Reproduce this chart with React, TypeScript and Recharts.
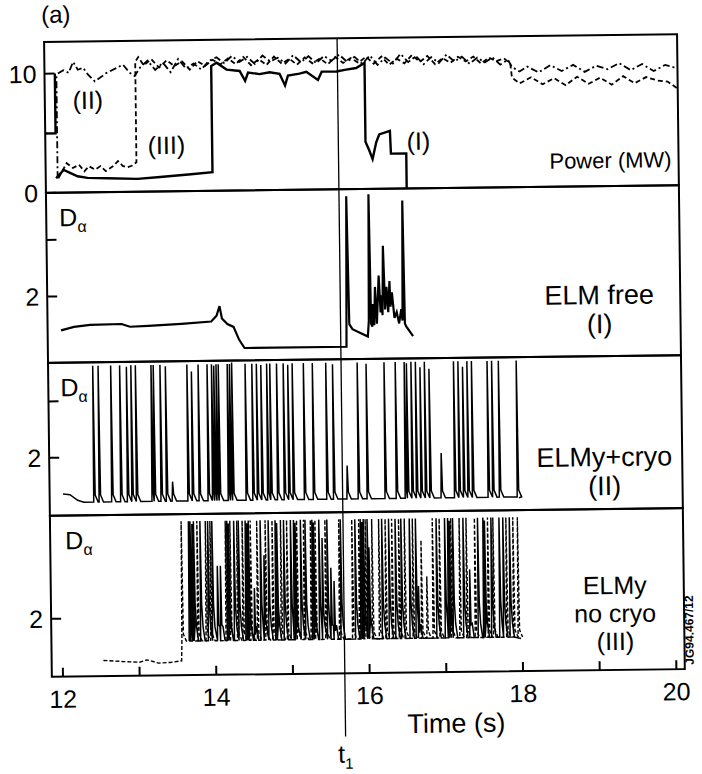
import React from "react";
import { LineChart, Line, XAxis, YAxis, ReferenceLine, ReferenceArea } from "recharts";

// time axis (s)
const X_DOMAIN: [number, number] = [11.855, 20.11];
const X_TICKS = [12, 13, 14, 15, 16, 17, 18, 19, 20];
const X_LABELS = [12, 14, 16, 18, 20];
const T1 = 15.676;

// power (MW)
const powerI: [number, number | null][] = [
  [11.99, 10.0], [11.99, 4.98], [11.855, 4.98], [11.9, null],
  [11.99, 1.22], [12.09, 1.91], [12.18, 1.64], [12.27, 1.36], [12.4, 1.22], [12.66, 1.16],
  [13.05, 1.08], [13.31, 1.2], [13.75, 1.42], [14.03, 1.56],
  [14.03, 10.47], [14.1, 10.75], [14.23, 10.16], [14.4, 10.03], [14.47, 9.19], [14.51, 9.89],
  [14.66, 9.75], [14.79, 9.89], [14.92, 9.75], [14.99, 8.77], [15.03, 9.6], [15.18, 9.75],
  [15.27, 9.89], [15.42, 9.19], [15.47, 9.89], [15.66, 9.89], [15.79, 10.03], [15.92, 10.16],
  [16.03, 10.58], [16.03, 3.97], [16.08, 3.2], [16.12, 2.5], [16.17, 3.9], [16.21, 4.56],
  [16.35, 4.85], [16.36, 2.94], [16.56, 2.94], [16.56, 0],
];
const powerII: [number, number][] = [
  [12.01, 1.22], [12.01, 9.71], [12.03, 10.0], [12.1, 10.27], [12.17, 10.05], [12.23, 10.96],
  [12.29, 10.3], [12.36, 10.45], [12.42, 9.9], [12.51, 9.3], [12.6, 9.7], [12.66, 9.99],
  [12.79, 10.4], [12.88, 10.68], [12.965, 10.0], [13.03, 9.71], [13.1, 10.4], [13.2, 11.0],
  [13.3, 10.2], [13.4, 10.8], [13.5, 10.0], [13.6, 11.1], [13.7, 10.3], [13.8, 10.7],
  [13.9, 10.2], [14.0, 10.9], [14.1, 11.2], [14.2, 10.7], [14.3, 11.3], [14.4, 10.8],
  [14.5, 11.2], [14.6, 10.6], [14.7, 11.3], [14.8, 10.8], [14.9, 11.1], [15.0, 10.6],
  [15.1, 11.3], [15.2, 10.7], [15.3, 11.2], [15.4, 10.6], [15.5, 11.2], [15.6, 10.8],
  [15.7, 11.3], [15.8, 10.7], [15.9, 11.1], [16.0, 10.5], [16.1, 11.2], [16.2, 10.4],
  [16.3, 11.0], [16.4, 10.5], [16.5, 11.3], [16.6, 10.6], [16.7, 11.1], [16.8, 10.4],
  [16.9, 11.0], [17.0, 10.5], [17.1, 11.2], [17.2, 10.6], [17.3, 11.0], [17.4, 10.4],
  [17.5, 10.9], [17.6, 10.5], [17.7, 10.9], [17.8, 10.3], [17.9, 10.7], [17.95, 10.1],
  [18.05, 9.7], [18.15, 10.1], [18.3, 9.6], [18.45, 10.2], [18.6, 9.7], [18.75, 10.2],
  [18.9, 9.6], [19.05, 10.1], [19.2, 9.8], [19.35, 10.3], [19.5, 9.7], [19.65, 10.2],
  [19.8, 9.6], [19.95, 10.1], [20.11, 9.8],
];
const powerIII: [number, number][] = [
  [12.02, 1.22], [12.13, 2.47], [12.21, 2.06], [12.29, 2.33], [12.36, 1.77], [12.42, 2.19],
  [12.5, 1.9], [12.57, 2.19], [12.64, 1.77], [12.74, 2.19], [12.8, 2.6], [12.86, 2.19],
  [12.92, 2.06], [12.98, 2.19], [13.04, 2.47], [13.04, 10.9], [13.08, 11.3], [13.15, 10.6],
  [13.25, 11.1], [13.35, 10.4], [13.45, 11.0], [13.55, 10.5], [13.65, 10.9], [13.75, 10.2],
  [13.85, 10.9], [13.95, 10.5], [14.05, 11.0], [14.15, 10.6], [14.25, 11.1], [14.35, 10.6],
  [14.45, 11.2], [14.55, 10.5], [14.65, 11.0], [14.75, 10.5], [14.85, 11.2], [14.95, 10.6],
  [15.05, 11.0], [15.15, 10.5], [15.25, 11.1], [15.35, 10.6], [15.45, 11.0], [15.55, 10.5],
  [15.65, 11.1], [15.75, 10.6], [15.85, 11.0], [15.95, 10.6], [16.05, 11.1], [16.15, 10.5],
  [16.25, 11.1], [16.35, 10.4], [16.45, 10.9], [16.55, 10.5], [16.65, 11.2], [16.75, 10.6],
  [16.85, 11.1], [16.95, 10.4], [17.05, 10.9], [17.15, 10.5], [17.25, 11.0], [17.35, 10.6],
  [17.45, 11.0], [17.55, 10.4], [17.65, 10.9], [17.75, 10.6], [17.85, 10.8], [17.93, 10.4],
  [17.95, 9.2], [18.05, 8.7], [18.2, 9.2], [18.35, 8.6], [18.5, 9.1], [18.65, 8.5],
  [18.8, 9.2], [18.95, 8.6], [19.1, 9.1], [19.25, 8.5], [19.4, 9.2], [19.55, 8.6],
  [19.7, 9.1], [19.85, 8.8], [19.98, 8.7], [20.11, 8.1],
];

// D-alpha, ELM free (I)
const elmFree: [number, number][] = [
  [12.03, 0.8], [12.2, 0.92], [12.41, 0.98], [12.82, 1.0], [12.93, 0.9], [13.17, 0.92],
  [13.6, 0.98], [13.99, 1.05], [14.06, 1.25], [14.1, 1.59], [14.13, 1.15], [14.2, 0.95],
  [14.28, 0.85], [14.35, 0.4], [14.42, 0.1], [15.75, 0.1], [15.77, 5.41], [15.79, 0.9],
  [15.83, 0.72], [16.03, 0.45], [16.045, 1.0], [16.06, 5.47], [16.075, 0.9], [16.09, 0.8],
  [16.1, 1.6], [16.115, 0.85], [16.13, 2.2], [16.15, 0.9], [16.18, 2.6], [16.2, 1.3],
  [16.21, 1.9], [16.225, 1.2], [16.24, 3.65], [16.26, 1.4], [16.28, 2.2], [16.3, 1.3],
  [16.32, 2.4], [16.33, 1.5], [16.35, 2.0], [16.38, 1.1], [16.41, 1.3], [16.44, 0.9],
  [16.47, 1.4], [16.485, 1.0], [16.5, 5.24], [16.515, 0.9], [16.53, 0.8], [16.62, 0.45],
];

// D-alpha, ELMy + cryo (II): lead-in, spikes [t, height], tail
const cryoStart: [number, number][] = [[12.03, 0.71], [12.12, 0.68], [12.22, 0.48], [12.3, 0.41]];
const cryoBase = 0.41;
const cryoSpikes: [number, number][] = [
  [12.437, 5.25], [12.507, 5.25], [12.671, 5.25], [12.788, 5.25], [12.876, 5.2], [12.934, 5.25],
  [12.993, 5.25], [13.197, 5.25], [13.226, 5.25], [13.314, 5.25], [13.384, 5.2], [13.46, 1.1],
  [13.665, 5.25], [13.723, 5.0], [13.811, 5.25], [13.928, 5.25], [13.986, 5.25], [14.015, 5.2],
  [14.045, 5.25], [14.074, 5.25], [14.191, 5.25], [14.22, 5.25], [14.249, 5.3], [14.424, 5.25],
  [14.512, 5.25], [14.571, 5.25], [14.629, 5.2], [14.705, 5.25], [14.746, 5.25], [14.834, 5.25],
  [14.921, 5.25], [14.98, 5.2], [15.038, 5.25], [15.184, 5.25], [15.301, 5.25], [15.476, 5.25],
  [15.564, 5.2], [15.739, 1.6], [15.886, 5.25], [16.002, 5.2], [16.236, 5.25], [16.382, 5.25],
  [16.499, 5.25], [16.528, 5.2], [16.587, 5.25], [16.645, 5.25], [16.704, 5.05], [16.762, 5.25],
  [16.821, 5.0], [16.967, 2.0], [17.142, 5.25], [17.2, 5.25], [17.259, 5.05], [17.317, 5.25],
  [17.376, 5.25], [17.58, 5.25], [17.639, 5.25], [17.727, 5.25], [17.96, 5.25],
];
const cryoEnd: [number, number][] = [[17.975, 0.38]];

// D-alpha, ELMy no cryo (III)
const noCryoStart: [number, number][] = [
  [12.53, 0.5], [12.8, 0.45], [13.0, 0.42], [13.1, 0.5], [13.25, 0.38], [13.4, 0.4], [13.55, 0.45],
];
const noCryoBase = 1.15;
const noCryoDashed: [number, number][] = [
  [13.565, 5.4], [13.77, 5.4], [13.88, 5.4], [13.94, 5.4], [14.14, 5.4], [14.2, 5.4],
  [14.29, 5.4], [14.36, 5.4], [14.465, 5.4], [14.55, 5.4], [14.66, 5.4], [14.75, 5.4],
  [14.86, 5.4], [14.94, 5.4], [15.07, 5.4], [15.16, 5.4], [15.25, 5.4], [15.31, 5.4],
  [15.44, 5.4], [15.62, 5.4], [15.79, 5.4], [15.88, 5.4], [15.965, 5.4], [16.05, 5.4],
  [16.14, 5.4], [16.225, 5.4], [16.31, 5.4], [16.4, 5.4], [16.475, 5.4], [16.58, 5.4],
  [16.69, 4.63], [16.76, 3.34], [16.84, 5.4], [16.93, 5.4], [17.08, 5.4], [17.19, 5.4],
  [17.28, 5.4], [17.39, 5.4], [17.56, 5.4], [17.63, 5.4], [17.8, 5.4], [17.89, 5.4], [17.95, 5.4],
];
const noCryoSolid: [number, number][] = [
  [13.66, 5.4], [13.68, 5.4], [13.705, 5.3], [13.725, 5.4], [13.81, 5.4], [13.91, 5.4],
  [13.965, 5.4], [14.03, 3.81], [14.07, 3.81], [14.16, 5.4], [14.18, 5.3], [14.25, 5.4],
  [14.31, 5.4], [14.4, 5.4], [14.42, 5.3], [14.44, 5.4], [14.51, 3.0], [14.595, 5.4],
  [14.64, 4.16], [14.7, 5.4], [14.79, 5.4], [14.81, 5.3], [14.9, 5.4], [14.99, 5.4],
  [15.03, 5.4], [15.05, 5.3], [15.12, 5.4], [15.18, 5.4], [15.27, 5.4], [15.29, 5.3],
  [15.36, 5.4], [15.4, 4.75], [15.465, 5.4], [15.51, 3.69], [15.55, 3.22], [15.64, 5.4],
  [15.83, 5.4], [15.9, 5.4], [15.92, 5.3], [15.94, 5.4], [15.99, 5.4], [16.01, 4.4],
  [16.18, 5.4], [16.27, 5.4], [16.355, 5.4], [16.43, 5.4], [16.54, 5.4], [16.62, 5.4],
  [16.65, 3.0], [16.89, 5.4], [17.0, 5.4], [17.04, 5.4], [17.06, 5.3], [17.105, 5.4],
  [17.24, 5.4], [17.32, 3.57], [17.43, 5.4], [17.5, 5.4], [17.52, 5.3], [17.605, 5.4],
  [17.71, 5.4], [17.76, 5.4], [17.845, 5.4],
];

const pairs = (arr: [number, number | null][]) => arr.map(([t, v]) => ({ t, v }));

function spikeTrace(start: [number, number][], spikes: [number, number][], end: [number, number][], base: number, solid = false) {
  const pts = pairs(start);
  spikes.forEach(([t, h], i) => {
    const next = i + 1 < spikes.length ? spikes[i + 1][0] : Infinity;
    pts.push({ t: t - 0.008, v: base });
    pts.push({ t, v: h });
    if (solid) {
      pts.push({ t: t + 0.01, v: h * 0.45 });
      pts.push({ t: t + 0.025, v: base + 0.5 });
    } else {
      pts.push({ t: t + 0.012, v: base + 0.25 });
    }
    if (next - t > 0.07) pts.push({ t: t + 0.05, v: base });
  });
  return pts.concat(pairs(end));
}

const PAD = 4;
const PLOT_W = 48;
const RIGHT = 21;
const font = "'Liberation Sans', Arial, Helvetica, sans-serif";

function makeYTick(labels: number[]) {
  return (props: any) => {
    const { y, payload } = props;
    return (
      <g>
        <line x1={PLOT_W} x2={PLOT_W + 10} y1={y} y2={y} stroke="#000" strokeWidth={2} />
        {labels.includes(payload.value) && (
          <text x={PLOT_W - 8} y={y} dy={9} textAnchor="end" fontSize={25} fontFamily={font} fill="#000">
            {payload.value}
          </text>
        )}
      </g>
    );
  };
}

const AXIS_Y = PAD + 161;
function XTick(props: any) {
  const { x, payload } = props;
  return (
    <g>
      <line x1={x} x2={x} y1={AXIS_Y} y2={AXIS_Y - 9} stroke="#000" strokeWidth={2} />
      {X_LABELS.includes(payload.value) && (
        <text x={x} y={AXIS_Y + 31} textAnchor="middle" fontSize={25} fontFamily={font} fill="#000">
          {payload.value}
        </text>
      )}
    </g>
  );
}

function Txt({ x, y, size = 24, anchor = "middle", lh = 1, children, style }: any) {
  const tx = anchor === "middle" ? "-50%" : anchor === "end" ? "-100%" : "0";
  return (
    <div
      style={{
        position: "absolute", left: x, top: y, transform: `translate(${tx}, -50%)`, textAlign: "center",
        fontSize: size, lineHeight: lh, whiteSpace: "nowrap", fontFamily: font, color: "#000", ...style,
      }}
    >
      {children}
    </div>
  );
}

function Dalpha({ x, y }: { x: number; y: number }) {
  return (
    <Txt x={x} y={y} anchor="start" size={25}>
      D<span style={{ fontSize: 16, position: "relative", top: 6 }}>α</span>
    </Txt>
  );
}

export default function App() {
  const frame = (y: [number, number]) => (
    <ReferenceArea x1={X_DOMAIN[0]} x2={X_DOMAIN[1]} y1={y[0]} y2={y[1]} fill="none" stroke="#000" strokeWidth={2} />
  );
  const hiddenX = <XAxis dataKey="t" type="number" domain={X_DOMAIN} allowDataOverflow hide />;
  const line = (data: any[], key: string, extra: any = {}) => (
    <Line key={key} data={data} dataKey="v" type="linear" dot={false} activeDot={false}
      isAnimationActive={false} stroke="#000" strokeWidth={1.6} connectNulls={false} {...extra} />
  );

  const pDom: [number, number] = [0, 12.67];
  const d2Dom: [number, number] = [-0.34, 5.66];
  const d3Dom: [number, number] = [-0.06, 5.37];
  const d4Dom: [number, number] = [-0.06, 5.65];

  return (
    <div style={{ position: "absolute", left: 0, top: 0, width: 702, height: 774, background: "#fff", overflow: "hidden" }}>
      <div style={{ position: "absolute", left: 0, top: 0, width: 702, height: 774, transform: "rotate(-0.7deg)", transformOrigin: "365px 360px" }}>
        {/* Power */}
        <div style={{ position: "absolute", left: 0, top: 38 - PAD }}>
          <LineChart width={702} height={151 + PAD + 20} margin={{ top: PAD, right: RIGHT, bottom: 20, left: 0 }}>
            {hiddenX}
            <YAxis type="number" domain={pDom} allowDataOverflow ticks={[0, 10]} interval={0} width={PLOT_W}
              axisLine={false} tickLine={false} tick={makeYTick([0, 10])} />
            {frame(pDom)}
            <ReferenceLine x={T1} stroke="#000" strokeWidth={1.3} />
            {line(pairs(powerIII), "p3", { strokeDasharray: "5 3", strokeWidth: 1.8 })}
            {line(pairs(powerII), "p2", { strokeDasharray: "7 3 2 3", strokeWidth: 1.8 })}
            {line(pairs(powerI), "p1", { strokeWidth: 2.4 })}
          </LineChart>
        </div>
        {/* ELM free */}
        <div style={{ position: "absolute", left: 0, top: 189 - PAD }}>
          <LineChart width={702} height={170 + 2 * PAD} margin={{ top: PAD, right: RIGHT, bottom: PAD, left: 0 }}>
            {hiddenX}
            <YAxis type="number" domain={d2Dom} allowDataOverflow ticks={[2, 4]} interval={0} width={PLOT_W}
              axisLine={false} tickLine={false} tick={makeYTick([2])} />
            {frame(d2Dom)}
            <ReferenceLine x={T1} stroke="#000" strokeWidth={1.3} />
            {line(pairs(elmFree), "e1", { strokeWidth: 2.2 })}
          </LineChart>
        </div>
        {/* ELMy + cryo */}
        <div style={{ position: "absolute", left: 0, top: 359 - PAD }}>
          <LineChart width={702} height={153 + 2 * PAD} margin={{ top: PAD, right: RIGHT, bottom: PAD, left: 0 }}>
            {hiddenX}
            <YAxis type="number" domain={d3Dom} allowDataOverflow ticks={[2, 4]} interval={0} width={PLOT_W}
              axisLine={false} tickLine={false} tick={makeYTick([2])} />
            {frame(d3Dom)}
            <ReferenceLine x={T1} stroke="#000" strokeWidth={1.3} />
            {line(spikeTrace(cryoStart, cryoSpikes, cryoEnd, cryoBase), "c1", { strokeWidth: 1.5 })}
          </LineChart>
        </div>
        {/* ELMy no cryo */}
        <div style={{ position: "absolute", left: 0, top: 512 - PAD }}>
          <LineChart width={702} height={161 + PAD + 101} margin={{ top: PAD, right: RIGHT, bottom: 0, left: 0 }}>
            <XAxis dataKey="t" type="number" domain={X_DOMAIN} allowDataOverflow ticks={X_TICKS} interval={0}
              height={101} axisLine={false} tickLine={false} tick={XTick} />
            <YAxis type="number" domain={d4Dom} allowDataOverflow ticks={[2]} interval={0} width={PLOT_W}
              axisLine={false} tickLine={false} tick={makeYTick([2])} />
            {frame(d4Dom)}
            <ReferenceLine segment={[{ x: T1, y: -2.3 }, { x: T1, y: d4Dom[1] }]} ifOverflow="visible" stroke="#000" strokeWidth={1.3} />
            {line(spikeTrace(noCryoStart, noCryoDashed, [], noCryoBase), "n1", { strokeDasharray: "4 2", strokeWidth: 1.4 })}
            {line(spikeTrace([], noCryoSolid, [[17.98, 1.1]], noCryoBase, true), "n2", { strokeWidth: 1.5 })}
          </LineChart>
        </div>

        {/* annotations */}
        <Txt x={60} y={11} size={24}>(a)</Txt>
        <Txt x={674} y={164} size={22} anchor="end">Power (MW)</Txt>
        <Txt x={91} y={97} size={25}>(II)</Txt>
        <Txt x={169} y={143} size={25}>(III)</Txt>
        <Txt x={421} y={142} size={25}>(I)</Txt>
        <Dalpha x={61} y={214} />
        <Txt x={600} y={313} size={27} lh="29px">ELM free<br />(I)</Txt>
        <Dalpha x={60} y={384} />
        <Txt x={603} y={475} size={27} lh="29px">ELMy+cryo<br />(II)</Txt>
        <Dalpha x={63} y={537} />
        <Txt x={612} y={616} size={25} lh="28px">ELMy<br />no cryo<br />(III)</Txt>
        <Txt x={452} y={725} size={27}>Time (s)</Txt>
        <Txt x={341} y={754} size={25}>
          t<span style={{ fontSize: 15, position: "relative", top: 6 }}>1</span>
        </Txt>
        <Txt x={686} y={634} size={12} style={{ transform: "translate(-50%, -50%) rotate(-90deg)", fontWeight: "bold" }}>
          JG94.467/12
        </Txt>
      </div>
    </div>
  );
}
